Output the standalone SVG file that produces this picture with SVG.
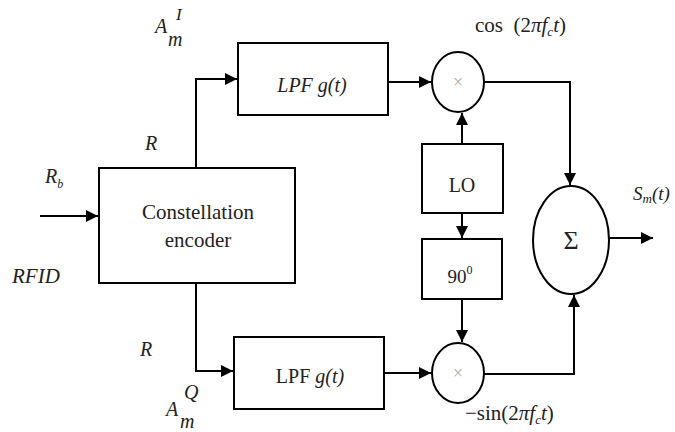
<svg xmlns="http://www.w3.org/2000/svg" width="675" height="432" viewBox="0 0 675 432" font-family="'Liberation Serif','DejaVu Serif',serif">
<style>
.b{fill:#fff;stroke:#000;stroke-width:2}
.c{fill:none;stroke:#000;stroke-width:2}
text{font-family:'Liberation Serif','DejaVu Serif',serif;fill:#222}
.i{font-style:italic}
.x{fill:#aaa;font-size:18px}
</style>
<defs>
<marker id="ah" viewBox="0 0 10 10" refX="10" refY="5" markerWidth="14" markerHeight="12" markerUnits="userSpaceOnUse" orient="auto"><path d="M0,0L10,5L0,10z" fill="#000"/></marker>
</defs>
<rect width="675" height="432" fill="#fff"/>
<g id="connectors" class="c">
<path d="M40,216H98" marker-end="url(#ah)"/>
<path d="M196,168V79H237" marker-end="url(#ah)"/>
<path d="M196,283V371H233" marker-end="url(#ah)"/>
<path d="M388,82H431" marker-end="url(#ah)"/>
<path d="M384,373H431" marker-end="url(#ah)"/>
<path d="M462,144V113" marker-end="url(#ah)"/>
<path d="M462,213V238" marker-end="url(#ah)"/>
<path d="M462,299V342" marker-end="url(#ah)"/>
<path d="M484,82H570V185" marker-end="url(#ah)"/>
<path d="M483,374H574V295" marker-end="url(#ah)"/>
<path d="M609,238H653" marker-end="url(#ah)"/>
</g>
<g id="encoder">
<rect class="b" x="99" y="168" width="196" height="115"/>
<text x="198" y="219" font-size="21" text-anchor="middle">Constellation</text>
<text x="198" y="247" font-size="21" text-anchor="middle">encoder</text>
</g>
<g id="lpf_top">
<rect class="b" x="238" y="43" width="150" height="72"/>
<text x="312" y="92" font-size="20" text-anchor="middle" class="i">LPF g(t)</text>
</g>
<g id="lpf_bottom">
<rect class="b" x="234" y="337" width="150" height="72"/>
<text x="310" y="383" font-size="20" text-anchor="middle">LPF <tspan class="i">g(t)</tspan></text>
</g>
<g id="mult_top">
<ellipse class="b" cx="458" cy="82" rx="26" ry="30"/>
<text x="458" y="88" text-anchor="middle" class="x">×</text>
</g>
<g id="mult_bottom">
<ellipse class="b" cx="458" cy="373" rx="26" ry="30"/>
<text x="458" y="379" text-anchor="middle" class="x">×</text>
</g>
<g id="lo">
<rect class="b" x="422" y="144" width="81" height="69"/>
<text x="462" y="192" font-size="20" text-anchor="middle">LO</text>
</g>
<g id="phase">
<rect class="b" x="422" y="239" width="80" height="60"/>
<text x="460" y="283" font-size="19" text-anchor="middle">90<tspan font-size="12" dy="-9">0</tspan></text>
</g>
<g id="sum">
<ellipse class="b" cx="571" cy="240" rx="38" ry="54"/>
<text x="571" y="249" font-size="26" text-anchor="middle">Σ</text>
</g>
<g id="labels">
<text x="155" y="33" font-size="20" class="i">A</text>
<text x="176" y="20" font-size="17" class="i">I</text>
<text x="168" y="46" font-size="20" class="i">m</text>
<text x="145" y="150" font-size="20" class="i">R</text>
<text x="45" y="183" font-size="20" class="i">R<tspan font-size="12" dy="5">b</tspan></text>
<text x="12" y="283" font-size="21" class="i">RFID</text>
<text x="140" y="356" font-size="20" class="i">R</text>
<text x="166" y="416" font-size="20" class="i">A</text>
<text x="184" y="399" font-size="20" class="i">Q</text>
<text x="180" y="428" font-size="20" class="i">m</text>
<text x="475" y="32" font-size="21" xml:space="preserve">cos  (2<tspan class="i">πf<tspan font-size="13" dy="4">c</tspan><tspan dy="-4">t</tspan></tspan>)</text>
<text x="465" y="420" font-size="21">−sin(2<tspan class="i">πf<tspan font-size="13" dy="4">c</tspan><tspan dy="-4">t</tspan></tspan>)</text>
<text x="633" y="200" font-size="19" class="i">S<tspan font-size="13" dy="3">m</tspan><tspan dy="-3">(t)</tspan></text>
</g>
</svg>
